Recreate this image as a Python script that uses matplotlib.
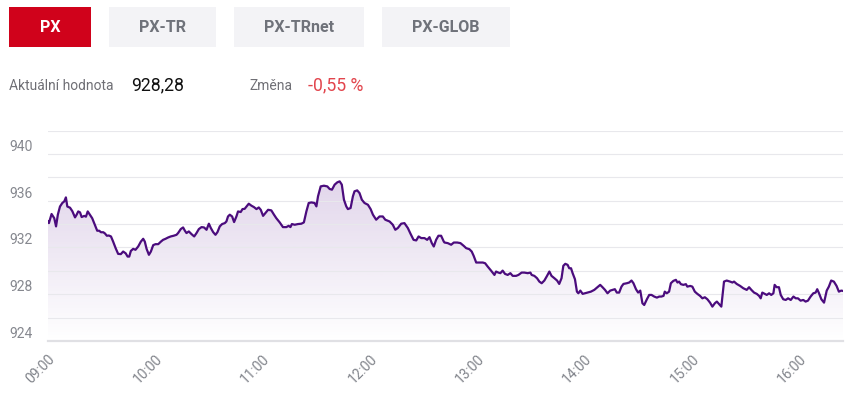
import numpy as np
import matplotlib.pyplot as plt
from matplotlib.patches import Rectangle

plt.rcParams['font.family'] = ['Roboto', 'DejaVu Sans']

# data
tabs = ['PX', 'PX-TR', 'PX-TRnet', 'PX-GLOB']
current_label = 'Aktuální hodnota'
current_value = '928,28'
change_label = 'Změna'
change_value = '-0,55 %'
hour_labels = ['09:00', '10:00', '11:00', '12:00', '13:00', '14:00', '15:00', '16:00']
hour_minutes = [0, 60, 120, 180, 240, 300, 360, 420]
y_labels = [924, 928, 932, 936, 940]

# minutes after 09:00 and index value
minutes = [0, 0.5, 2, 3.5, 4.5, 5.5, 6.7, 8, 9.1, 10, 10.8, 12.3, 13.6, 15.1, 16, 16.9,
           17.9, 18.8, 20.3, 21.2, 22.2, 23.4, 24.7, 26.2, 27.5, 28.6, 29.6, 30.9, 31.8,
           32.9, 34, 35.2, 36.4, 37.8, 39.2, 40.7, 42, 43.4, 44.5, 45.4, 46.3, 47.6, 48.9,
           50.4, 51.9, 53.2,
           54.1, 55.1, 56.4, 57.5, 58.8, 60.1, 61.6, 63.1, 64.3, 65.7, 67.1, 68.6, 70.2,
           71.8, 72.7, 74.2, 75.5, 76.5, 77.4, 78.7, 80.2, 81.7, 83, 84.3, 85.8, 87.2,
           88.6, 89.9, 91, 92.3, 93.6, 94.7, 96, 97.3, 98.8, 99.7, 100.6, 101.6, 102.9,
           104, 105.3, 106.2, 107.7, 108.7,
           109.9, 112.2, 113.7, 115.1, 116.5, 117.8, 118.9, 120.2, 121.5, 123, 124.8,
           126.3, 127.6, 129.5, 131.3, 133.2, 134.5, 135.5, 136.3, 137.9, 139.7, 141.6,
           143, 144.4, 145.7, 147.2, 149, 150, 150.9, 152.4, 154.2, 156.1, 157.4, 158.7,
           160.2, 161.7, 163, 164.2, 165.4,
           166.7, 167.6, 169.1, 170.4, 171.3, 172.8, 174.1, 175.4, 176.9, 178.8, 180.3,
           181.6, 183.4, 185.3, 187.1, 188.5, 190.9, 192.7, 194.1, 195.5, 197.4, 199.2,
           201.1, 202.6, 204.3, 205.8, 207.1, 208.6, 210.4, 211.9, 213.2, 214.5, 215.6,
           216.9, 218.2, 219.7, 221.2,
           221.6, 223.4, 225.3, 226.8, 228.7, 230.5, 232.3, 233.7, 235.5, 236.8, 237.9,
           239.3, 241.1, 243, 244.3, 245.7, 247.6, 249.5, 250.4, 251.7, 252.8, 254.1,
           255.4, 256.9, 258.4, 259.7, 261.6, 262.9, 264.7, 266.2, 268.1, 269.6, 270.3,
           271.8, 273.3, 274.6, 275.9, 277.4,
           278.9, 280.2, 281.4, 283, 284.5, 285.7, 287, 288, 289.1, 290.4, 291.3, 292.3,
           293.2, 294.5, 295.6, 296.4, 297.5, 298.8, 300.1, 301.5, 303.4, 305.3, 307.1,
           308.6, 309.9, 311.3, 312.7, 314.2, 315.5, 316.8, 317.9, 319.2, 320.5, 321.6,
           323.5, 324.8, 326.1, 327.2, 328.6, 329.8, 331, 332.2, 333.2,
           334.7, 336, 337.3, 338.8, 340.3, 341.6, 342.8, 344, 344.7, 345.8, 347.1, 348.1,
           349.5, 350.9, 351.8, 352.7, 353.7, 355.1, 356.5, 357.3, 358.9, 360.1, 361.5,
           362.9, 364.4, 365.7, 367.1, 368.5, 370, 371.3, 372.7, 373.8, 375, 376.3, 377.8,
           379.3, 381.2, 382.5, 383.4, 384.9, 386.8, 388.6,
           390.5, 391.8, 393.1, 394.6, 396.1, 397.4, 398.3, 399.2, 400.6, 401.7, 403,
           404.2, 405.4, 406.1, 407.2, 408.5, 409.5, 410.9, 412.3, 413.6, 415.1, 416.6,
           417.9, 419.1, 420.6, 422.1, 423.4, 424.7, 426.2, 427.7, 429, 429.9, 430.9,
           432.2, 433.7, 435.2, 436.4, 437.7, 439.2, 440.7, 442, 443.3, 444.3]
values = [934.22, 934.08, 934.86, 934.5, 933.8, 934.8, 935.5, 935.8, 935.94, 936.28, 935.5,
          935.4, 935.1, 934.57, 934.8, 935.08, 935.0, 934.6, 934.7, 934.63, 935.08, 934.8,
          934.5, 933.94, 933.43, 933.43, 933.3, 933.3, 933.2, 933.0, 933.02, 932.94, 932.5,
          931.94, 931.45, 931.43, 931.65, 931.5, 931.22, 931.22, 931.7, 931.88, 931.8,
          932.08, 932.5, 932.74,
          932.5, 931.88, 931.37, 931.65, 932.2, 932.28, 932.28, 932.5, 932.65, 932.74,
          932.85, 932.94, 933.0, 933.08, 933.23, 933.57, 933.71, 933.43, 933.23, 933.37,
          933.14, 932.94, 933.23, 933.57, 933.74, 933.71, 933.51, 934.03, 933.66, 933.31,
          933.08, 933.31, 933.8, 934.0, 934.08, 934.22, 934.65, 934.8, 934.65, 934.17,
          934.65, 935.08, 935.03, 935.28,
          935.3, 935.74, 935.57, 935.45, 935.28, 935.42, 935.22, 934.7, 934.94, 935.22,
          935.17, 934.8, 934.5, 934.14, 933.74, 933.74, 933.85, 933.74, 934.0, 933.94,
          934.0, 934.03, 934.14, 935.08, 935.8, 935.85, 935.8, 935.51, 936.37, 937.22,
          937.28, 937.22, 937.0, 936.94, 937.37, 937.57, 937.65, 937.37, 936.08,
          935.51, 935.28, 935.37, 936.37, 936.8, 936.88, 936.65, 936.08, 935.8, 935.65,
          935.28, 934.8, 934.37, 934.65, 934.65, 934.37, 934.22, 933.94, 933.51, 933.66,
          934.03, 934.08, 933.66, 933.17, 932.65, 932.6, 932.94, 932.8, 932.8, 932.65,
          932.88, 932.37, 932.08, 932.65, 933.0, 933.0, 932.5,
          932.42, 932.37, 932.23, 932.42, 932.42, 932.37, 932.14, 931.94, 931.85, 931.65,
          931.28, 930.71, 930.71, 930.71, 930.65, 930.37, 930.02, 929.65, 929.94, 929.85,
          929.8, 930.02, 929.74, 929.65, 929.8, 929.57, 929.57, 929.65, 929.85, 929.85,
          929.8, 929.85, 929.65, 929.57, 929.37, 929.08, 928.94, 929.17,
          929.57, 929.94, 929.57, 929.37, 929.17, 928.88, 929.37, 930.43, 930.6, 930.51,
          930.22, 930.22, 929.8, 929.28, 928.22, 928.08, 928.31, 928.03, 928.08, 928.14,
          928.22, 928.37, 928.6, 928.8, 928.6, 928.37, 928.08, 928.31, 928.37, 928.43,
          928.14, 928.14, 928.65, 928.88, 928.94, 929.0, 929.17, 928.94, 928.43, 928.14,
          928.31, 927.23, 927.08,
          927.57, 927.94, 927.94, 927.8, 927.71, 927.8, 927.8, 927.86, 928.22, 928.08,
          928.22, 928.94, 929.14, 929.23, 929.0, 929.08, 928.86, 928.8, 928.86, 928.65,
          928.71, 928.65, 928.22, 928.03, 927.86, 927.65, 927.74, 927.57, 927.28, 926.94,
          927.23, 927.37, 927.17, 926.94, 929.08, 929.17, 929.08, 929.0, 929.08, 928.88,
          928.71, 928.51,
          928.37, 928.6, 928.37, 928.14, 928.03, 927.86, 927.65, 928.14, 928.03, 927.94,
          928.08, 927.94, 928.08, 928.8, 928.6, 928.6, 927.94, 927.57, 927.51, 927.65,
          927.51, 927.8, 927.65, 927.65, 927.45, 927.51, 927.37, 927.45, 927.8, 928.08,
          928.14, 928.43, 928.08, 927.57, 927.28, 928.31, 928.65, 929.17, 929.08, 928.71,
          928.22, 928.31, 928.28]

W, H = 858, 396
fig = plt.figure(figsize=(W / 100, H / 100), dpi=100)

# tabs at the top
tab_x = [(9, 91), (109, 216), (234, 364), (382, 510)]
for i, (name, (x0, x1)) in enumerate(zip(tabs, tab_x)):
    bg = '#d0021b' if i == 0 else '#f3f3f6'
    fg = 'white' if i == 0 else '#6f727a'
    fig.add_artist(Rectangle((x0 / W, 1 - 47 / H), (x1 - x0) / W, 40 / H,
                             transform=fig.transFigure, color=bg, lw=0))
    fig.text((x0 + x1) / 2 / W, 1 - 27.5 / H, name, ha='center', va='center',
             fontsize=11.5, fontweight='bold', color=fg)

fig.text(9 / W, 1 - 86 / H, current_label, fontsize=10, color='#6f6f75', va='center')
fig.text(131 / W, 1 - 85.5 / H, current_value, fontsize=12.7, color='#111111', va='center')
fig.text(249 / W, 1 - 86 / H, change_label, fontsize=10, color='#6f6f75', va='center')
fig.text(308 / W, 1 - 85.5 / H, change_value, fontsize=12.7, color='#e2454d', va='center')

# chart
ax = fig.add_axes([48 / W, 1 - 341 / H, 795 / W, (341 - 130.5) / H])
ax.set_xlim(0, minutes[-1])
ax.set_ylim(924, 942)

poly = ax.fill_between(minutes, values, 924, color='none', lw=0)
n = 256
grad = np.zeros((n, 1, 4))
grad[..., 0] = 126 / 255
grad[..., 1] = 75 / 255
grad[..., 2] = 167 / 255
grad[:, 0, 3] = np.linspace(0.3, 0, n)
im = ax.imshow(grad, extent=[0, minutes[-1], 924, 942], origin='upper',
               aspect='auto', zorder=1, interpolation='bilinear')
im.set_clip_path(poly.get_paths()[0], transform=ax.transData)

ax.plot(minutes, values, color='#4b0c7d', lw=1.6, zorder=3, solid_joinstyle='round')

ax.set_ylim(924, 942)
ax.set_xlim(0, minutes[-1])
ax.set_yticks(np.arange(926, 943, 2))
ax.grid(axis='y', color='#e8e8ec', lw=0.8, zorder=0)
ax.axhline(924, color='#e0e0e4', lw=1.6, zorder=2, clip_on=False)
ax.tick_params(axis='y', length=0, labelleft=False)
for s in ax.spines.values():
    s.set_visible(False)

for v in y_labels:
    ax.text(-15 / 795, v + 0.6, str(v), transform=ax.get_yaxis_transform(),
            ha='right', va='center', fontsize=10, color='#86888f')

ax.set_xticks(hour_minutes, hour_labels)
ax.tick_params(axis='x', length=0, pad=8, labelsize=10, labelcolor='#80838a',
               labelrotation=45)
plt.setp(ax.get_xticklabels(), ha='right', rotation_mode='anchor')

fig.savefig('out.png', dpi=100)
